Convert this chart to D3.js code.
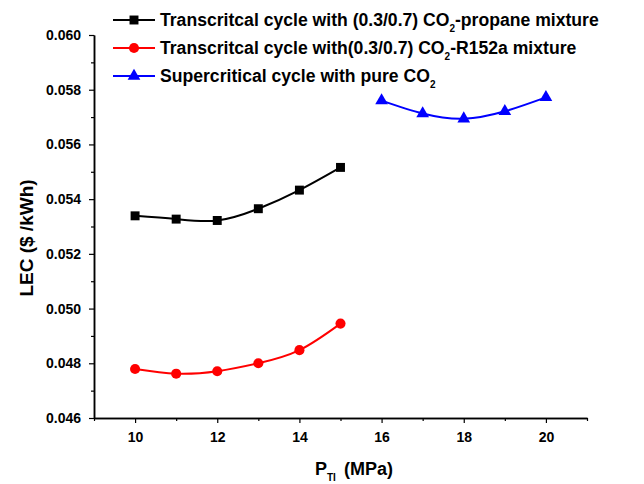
<!DOCTYPE html>
<html>
<head>
<meta charset="utf-8">
<script src="https://cdn.jsdelivr.net/npm/d3@7"></script>
<style>
  html, body { margin: 0; padding: 0; background: #fff; }
  svg { display: block; font-family: Arial, "Liberation Sans", sans-serif; }
</style>
</head>
<body>
<svg id="chart" width="644" height="484"></svg>
<script>
// LEC versus turbine inlet pressure for three cycle configurations
const pressureMix = [10, 11, 12, 13, 14, 15];
const lecPropane = [0.05339, 0.05327, 0.05322, 0.05365, 0.05433, 0.05516];
const lecR152a   = [0.04779, 0.04762, 0.04771, 0.04800, 0.04848, 0.04945];
const pressureCO2 = [16, 17, 18, 19, 20];
const lecCO2 = [0.05760, 0.05713, 0.05694, 0.05721, 0.05772];

const xMajorTicks = [10, 12, 14, 16, 18, 20];
const xMinorTicks = [9, 11, 13, 15, 17, 19, 21];
const yMajorTicks = [0.046, 0.048, 0.050, 0.052, 0.054, 0.056, 0.058, 0.060];
const yMinorTicks = [0.047, 0.049, 0.051, 0.053, 0.055, 0.057, 0.059];

const seriesNames = [
  ["Transcritcal cycle with (0.3/0.7) CO", "2", "-propane mixture"],
  ["Transcritcal cycle with(0.3/0.7) CO", "2", "-R152a mixture"],
  ["Supercritical cycle with pure CO", "2", ""]
];

const svg = d3.select("#chart");
const plotLeft = 94, plotRight = 587, plotTop = 35, plotBottom = 418;

const x = d3.scaleLinear().domain([9, 21]).range([plotLeft, plotRight]);
const y = d3.scaleLinear().domain([0.046, 0.060]).range([plotBottom, plotTop]);

// Axes
svg.append("g").attr("transform", `translate(0,${plotBottom})`)
  .call(d3.axisBottom(x).tickValues(xMajorTicks).tickSize(5).tickSizeOuter(0).tickPadding(9).tickFormat(d3.format("d")));
svg.append("g").attr("transform", `translate(0,${plotBottom})`)
  .call(d3.axisBottom(x).tickValues(xMinorTicks).tickSize(3).tickSizeOuter(0).tickFormat(""));
svg.append("g").attr("transform", `translate(${plotLeft},0)`)
  .call(d3.axisLeft(y).tickValues(yMajorTicks).tickSize(5).tickSizeOuter(0).tickPadding(8).tickFormat(d3.format(".3f")));
svg.append("g").attr("transform", `translate(${plotLeft},0)`)
  .call(d3.axisLeft(y).tickValues(yMinorTicks).tickSize(3).tickSizeOuter(0).tickFormat(""));

svg.selectAll(".domain").attr("stroke", "#000").attr("stroke-width", 1.5);
svg.selectAll(".tick line").attr("stroke", "#000").attr("stroke-width", 1.2);
svg.selectAll(".tick text").attr("fill", "#000").style("font-size", "14px").style("font-weight", "bold");

// Axis titles
svg.append("text")
  .attr("transform", "translate(33,238) rotate(-90)")
  .attr("text-anchor", "middle")
  .style("font-size", "19px").style("font-weight", "bold")
  .text("LEC ($ /kWh)");

const xt = svg.append("text")
  .attr("x", 315).attr("y", 475)
  .style("font-size", "18px").style("font-weight", "bold");
xt.append("tspan").text("P");
xt.append("tspan").attr("dy", 6).style("font-size", "10px").text("TI");
xt.append("tspan").attr("dy", -6).attr("dx", 8).text("(MPa)");

// Series
const line = d3.line().curve(d3.curveNatural).x(d => x(d[0])).y(d => y(d[1]));
const series = [
  { xs: pressureMix, ys: lecPropane, color: "#000000", marker: d3.symbolSquare, size: 80 },
  { xs: pressureMix, ys: lecR152a, color: "#ff0000", marker: d3.symbolCircle, size: 80 },
  { xs: pressureCO2, ys: lecCO2, color: "#0000ff", marker: d3.symbolTriangle, size: 70 }
];

series.forEach(s => {
  const pts = s.xs.map((v, i) => [v, s.ys[i]]);
  svg.append("path").datum(pts)
    .attr("d", line).attr("fill", "none")
    .attr("stroke", s.color).attr("stroke-width", 2);
  svg.append("g").selectAll("path").data(pts).join("path")
    .attr("transform", d => `translate(${x(d[0])},${y(d[1])})`)
    .attr("d", d3.symbol().type(s.marker).size(s.size))
    .attr("fill", s.color);
});

// Legend
const legendY = [20, 48, 76];
series.forEach((s, i) => {
  const g = svg.append("g").attr("transform", `translate(0,${legendY[i]})`);
  g.append("line").attr("x1", 113).attr("x2", 155).attr("y1", 0).attr("y2", 0)
    .attr("stroke", s.color).attr("stroke-width", 2);
  g.append("path").attr("transform", "translate(134,0)")
    .attr("d", d3.symbol().type(s.marker).size(s.size)).attr("fill", s.color);
  const t = g.append("text").attr("x", 160).attr("y", 6)
    .style("font-size", "17.6px").style("font-weight", "bold").attr("fill", "#000");
  t.append("tspan").text(seriesNames[i][0]);
  t.append("tspan").attr("dy", 6).style("font-size", "10px").text(seriesNames[i][1]);
  t.append("tspan").attr("dy", -6).text(seriesNames[i][2]);
});
</script>
</body>
</html>
